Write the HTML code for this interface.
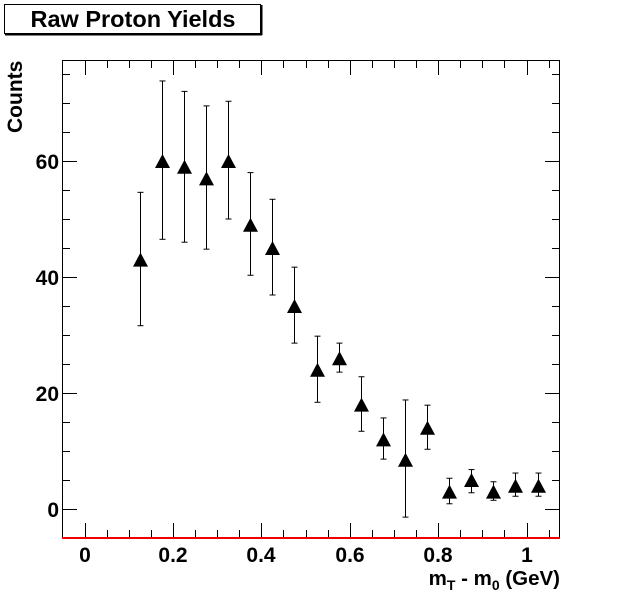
<!DOCTYPE html>
<html><head><meta charset="utf-8"><style>
body{margin:0;background:#fff;width:623px;height:599px;overflow:hidden}
svg text{font-family:"Liberation Sans",sans-serif;font-weight:bold}
</style></head><body>
<svg width="623" height="599" xmlns="http://www.w3.org/2000/svg">
<rect x="4.5" y="4.5" width="256" height="29" fill="#fff" stroke="#000"/>
<line x1="5" y1="34.5" x2="262" y2="34.5" stroke="#000" stroke-width="2"/>
<line x1="261.5" y1="5" x2="261.5" y2="35" stroke="#000" stroke-width="2"/>
<text x="133" y="27" font-size="23.5" text-anchor="middle">Raw Proton Yields</text>
<rect x="62.5" y="60.5" width="497" height="477" fill="none" stroke="#000"/>
<g id="ticks" stroke="#000" stroke-width="1"></g>
<line x1="62" y1="538" x2="560" y2="538" stroke="#e00" stroke-width="2"/>
<g font-size="21" text-anchor="end">
<text x="59" y="517">0</text><text x="59" y="401">20</text><text x="59" y="285">40</text><text x="59" y="169">60</text>
</g>
<g font-size="21" text-anchor="middle">
<text x="85" y="562">0</text><text x="173" y="562">0.2</text><text x="261" y="562">0.4</text><text x="350" y="562">0.6</text><text x="438" y="562">0.8</text><text x="527" y="562">1</text>
</g>
<text x="560" y="585" font-size="20.5" text-anchor="end">m<tspan font-size="14" dy="5">T</tspan><tspan dy="-5"> - m</tspan><tspan font-size="14" dy="5">0</tspan><tspan dy="-5"> (GeV)</tspan></text>
<text transform="translate(22,133) rotate(-90)" font-size="21">Counts</text>
<g id="pts" stroke="#000" fill="#000"></g>
</svg>
<script>
const ns="http://www.w3.org/2000/svg";
const X=v=>84.5+v*442, Y=v=>509-v*5.8;
const t=document.getElementById('ticks');
function L(x1,y1,x2,y2){const l=document.createElementNS(ns,'line');l.setAttribute('x1',x1);l.setAttribute('y1',y1);l.setAttribute('x2',x2);l.setAttribute('y2',y2);t.appendChild(l);}
for(let i=-1;i<=21;i++){const v=i*0.05,x=Math.round(X(v))+0.5;if(x<62||x>560)continue;const len=i%4==0?15:8;L(x,538,x,538-len);L(x,60,x,60+len);}
for(let i=-1;i<=16;i++){const v=i*5,y=Math.round(Y(v))+0.5;if(y<60||y>538)continue;const len=i%4==0?15:8;L(62,y,62+len,y);L(560,y,560-len,y);}
const d=[[43,54.6,31.6],[60,73.8,46.5],[59,72,46],[57,69.5,44.8],[60,70.3,50],[49,58,40.3],[45,53.4,36.9],[35,41.7,28.6],[24,29.8,18.4],[26,28.6,23.6],[18,22.8,13.4],[12,15.7,8.6],[8.5,18.8,-1.4],[14,17.9,10.3],[3,5.3,0.9],[5,6.8,2.8],[3,4.7,1.5],[4,6.2,2.2],[4,6.2,2.2]];
const g=document.getElementById('pts');let s='';
d.forEach((p,i)=>{const x=Math.round(X(0.125+0.05*i))+0.5,y=Y(p[0]),a=Y(p[1]),b=Y(p[2]);
s+=`<line x1="${x}" y1="${a}" x2="${x}" y2="${b}"/><line x1="${x-3}" y1="${a}" x2="${x+3}" y2="${a}"/><line x1="${x-3}" y1="${b}" x2="${x+3}" y2="${b}"/><polygon stroke="none" points="${x-7.5},${y+7} ${x+7.5},${y+7} ${x},${y-7}"/>`;});
g.innerHTML=s;
</script>
</body></html>
